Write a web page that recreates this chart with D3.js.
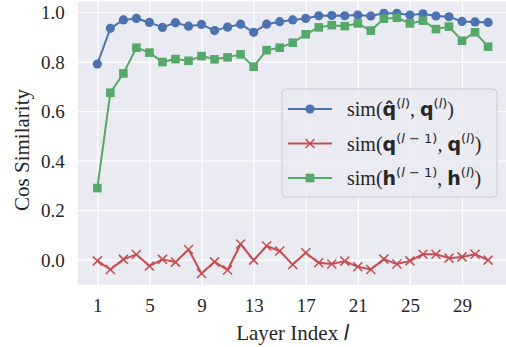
<!DOCTYPE html>
<html>
<head>
<meta charset="utf-8">
<script src="https://cdn.jsdelivr.net/npm/d3@7/dist/d3.min.js"></script>
<style>
  body { margin: 0; background: #fff; }
</style>
</head>
<body>
<svg id="chart" width="506" height="347"></svg>
<script>
// layer index 1..31
const layers = d3.range(1, 32);

// sim(q^hat(l), q(l))
const simQhatQ = [0.790, 0.934, 0.968, 0.974, 0.958, 0.938, 0.957, 0.943, 0.950, 0.925,
                  0.939, 0.951, 0.918, 0.951, 0.961, 0.968, 0.974, 0.985, 0.986, 0.985,
                  0.988, 0.984, 0.995, 0.995, 0.988, 0.993, 0.984, 0.981, 0.962, 0.960, 0.958];

// sim(q(l-1), q(l))
const simQprevQ = [-0.005, -0.040, 0.001, 0.021, -0.026, 0.001, -0.010, 0.041, -0.056, -0.009,
                   -0.042, 0.063, -0.002, 0.055, 0.035, -0.020, 0.028, -0.013, -0.018, -0.006,
                   -0.029, -0.040, 0.002, -0.018, -0.005, 0.022, 0.022, 0.006, 0.011, 0.022, -0.002];

// sim(h(l-1), h(l))
const simHprevH = [0.289, 0.674, 0.752, 0.856, 0.836, 0.798, 0.810, 0.803, 0.822, 0.809,
                   0.817, 0.829, 0.779, 0.846, 0.856, 0.876, 0.910, 0.938, 0.947, 0.943,
                   0.954, 0.925, 0.973, 0.977, 0.954, 0.965, 0.931, 0.941, 0.884, 0.918, 0.860];

const xTicks = [1, 5, 9, 13, 17, 21, 25, 29];
const yTicks = [0.0, 0.2, 0.4, 0.6, 0.8, 1.0];

const series = [
  {values: simQhatQ, color: '#4C72B0', marker: 'circle'},
  {values: simQprevQ, color: '#C44E52', marker: 'x'},
  {values: simHprevH, color: '#55A868', marker: 'square'}
];

const serif = 'Liberation Serif, Times New Roman, DejaVu Serif, serif';
const sans = 'DejaVu Sans, sans-serif';

const svg = d3.select('#chart').attr('font-family', serif);
const plot = {left: 77.8, right: 507.6, top: 1.5, bottom: 285};

const x = d3.scaleLinear().domain([-0.5, 32.5]).range([plot.left, plot.right]);
const y = d3.scaleLinear().domain([-0.1025, 1.0425]).range([plot.bottom, plot.top]);

svg.append('rect')
  .attr('x', plot.left).attr('y', plot.top)
  .attr('width', plot.right - plot.left).attr('height', plot.bottom - plot.top)
  .attr('fill', '#EAEAF2');

// grid via axes
const xAxis = svg.append('g')
  .attr('transform', 'translate(0,' + plot.bottom + ')')
  .call(d3.axisBottom(x).tickValues(xTicks).tickFormat(d3.format('d'))
    .tickSize(-(plot.bottom - plot.top)).tickPadding(14));
const yAxis = svg.append('g')
  .attr('transform', 'translate(' + plot.left + ',0)')
  .call(d3.axisLeft(y).tickValues(yTicks).tickFormat(d3.format('.1f'))
    .tickSize(-(plot.right - plot.left)).tickPadding(13));

[xAxis, yAxis].forEach(function(ax) {
  ax.attr('font-family', serif).attr('font-size', 19);
  ax.select('.domain').remove();
  ax.selectAll('.tick line').attr('stroke', '#fff').attr('stroke-width', 1.2);
  ax.selectAll('.tick text')
    .attr('fill', '#262626')
    .attr('font-family', serif)
    .attr('font-size', 19);
});
yAxis.selectAll('.tick text').attr('dy', '0.34em');
xAxis.selectAll('.tick text').attr('dy', '0.71em');

svg.append('defs').append('clipPath').attr('id', 'clip')
  .append('rect')
  .attr('x', plot.left).attr('y', plot.top)
  .attr('width', plot.right - plot.left).attr('height', plot.bottom - plot.top);

function drawMarker(g, kind, color) {
  if (kind === 'circle') {
    g.append('circle').attr('r', 4.6).attr('fill', color);
  } else if (kind === 'square') {
    g.append('rect').attr('x', -4.3).attr('y', -4.3).attr('width', 8.6).attr('height', 8.6)
      .attr('fill', color);
  } else {
    g.append('path').attr('d', 'M-4.5,-4.5L4.5,4.5M-4.5,4.5L4.5,-4.5')
      .attr('stroke', color).attr('stroke-width', 1.5).attr('fill', 'none');
  }
}

const dataLayer = svg.append('g').attr('clip-path', 'url(#clip)');
const line = d3.line().x((d, i) => x(layers[i])).y(d => y(d));

series.forEach(function(s) {
  dataLayer.append('path')
    .datum(s.values)
    .attr('d', line)
    .attr('fill', 'none')
    .attr('stroke', s.color)
    .attr('stroke-width', 2)
    .attr('stroke-linejoin', 'round');
  s.values.forEach(function(v, i) {
    const g = dataLayer.append('g')
      .attr('transform', 'translate(' + x(layers[i]) + ',' + y(v) + ')');
    drawMarker(g, s.marker, s.color);
  });
});

// axis labels
svg.append('text')
  .attr('x', (plot.left + plot.right) / 2).attr('y', 340)
  .attr('text-anchor', 'middle')
  .attr('fill', '#262626')
  .attr('font-family', serif).attr('font-size', 21)
  .call(function(t) {
    t.append('tspan').text('Layer Index ');
    t.append('tspan').text('l')
      .attr('font-family', sans).attr('font-style', 'italic');
  });

svg.append('text')
  .attr('transform', 'translate(29,150) rotate(-90)')
  .attr('text-anchor', 'middle')
  .attr('fill', '#262626')
  .attr('font-family', serif).attr('font-size', 21)
  .text('Cos Similarity');

// legend
const legend = svg.append('g');
legend.append('rect')
  .attr('x', 282).attr('y', 89).attr('width', 215).attr('height', 108)
  .attr('rx', 4)
  .attr('fill', '#EAEAF2').attr('fill-opacity', 0.8)
  .attr('stroke', '#cccccc').attr('stroke-width', 1);

const labels = [
  [['sim(', 'serif'], ['q\u0302', 'bold'], ['(', 'sup'], ['l', 'supi'], [')', 'sup'], [', ', 'serif'],
   ['q', 'bold'], ['(', 'sup'], ['l', 'supi'], [')', 'sup'], [')', 'serif']],
  [['sim(', 'serif'], ['q', 'bold'], ['(', 'sup'], ['l', 'supi'], [' \u2212 1)', 'sup'], [', ', 'serif'],
   ['q', 'bold'], ['(', 'sup'], ['l', 'supi'], [')', 'sup'], [')', 'serif']],
  [['sim(', 'serif'], ['h', 'bold'], ['(', 'sup'], ['l', 'supi'], [' \u2212 1)', 'sup'], [', ', 'serif'],
   ['h', 'bold'], ['(', 'sup'], ['l', 'supi'], [')', 'sup'], [')', 'serif']]
];
const rowY = [109, 143.5, 178];

series.forEach(function(s, i) {
  const row = legend.append('g').attr('transform', 'translate(0,' + rowY[i] + ')');
  row.append('line').attr('x1', 288).attr('x2', 332)
    .attr('stroke', s.color).attr('stroke-width', 2);
  drawMarker(row.append('g').attr('transform', 'translate(310,0)'), s.marker, s.color);

  const t = row.append('text').attr('x', 347).attr('y', 7)
    .attr('fill', '#262626').attr('font-family', serif).attr('font-size', 20);
  let raised = false;
  labels[i].forEach(function(p) {
    const sup = p[1] === 'sup' || p[1] === 'supi';
    const ts = t.append('tspan').text(p[0]);
    if (sup && !raised) { ts.attr('dy', -8); raised = true; }
    if (!sup && raised) { ts.attr('dy', 8); raised = false; }
    if (p[1] === 'bold') {
      ts.attr('font-family', sans).attr('font-weight', 'bold').attr('font-size', 19);
    } else if (sup) {
      ts.attr('font-family', sans).attr('font-size', 13);
      if (p[1] === 'supi') ts.attr('font-style', 'italic');
    }
  });
});
</script>
</body>
</html>
